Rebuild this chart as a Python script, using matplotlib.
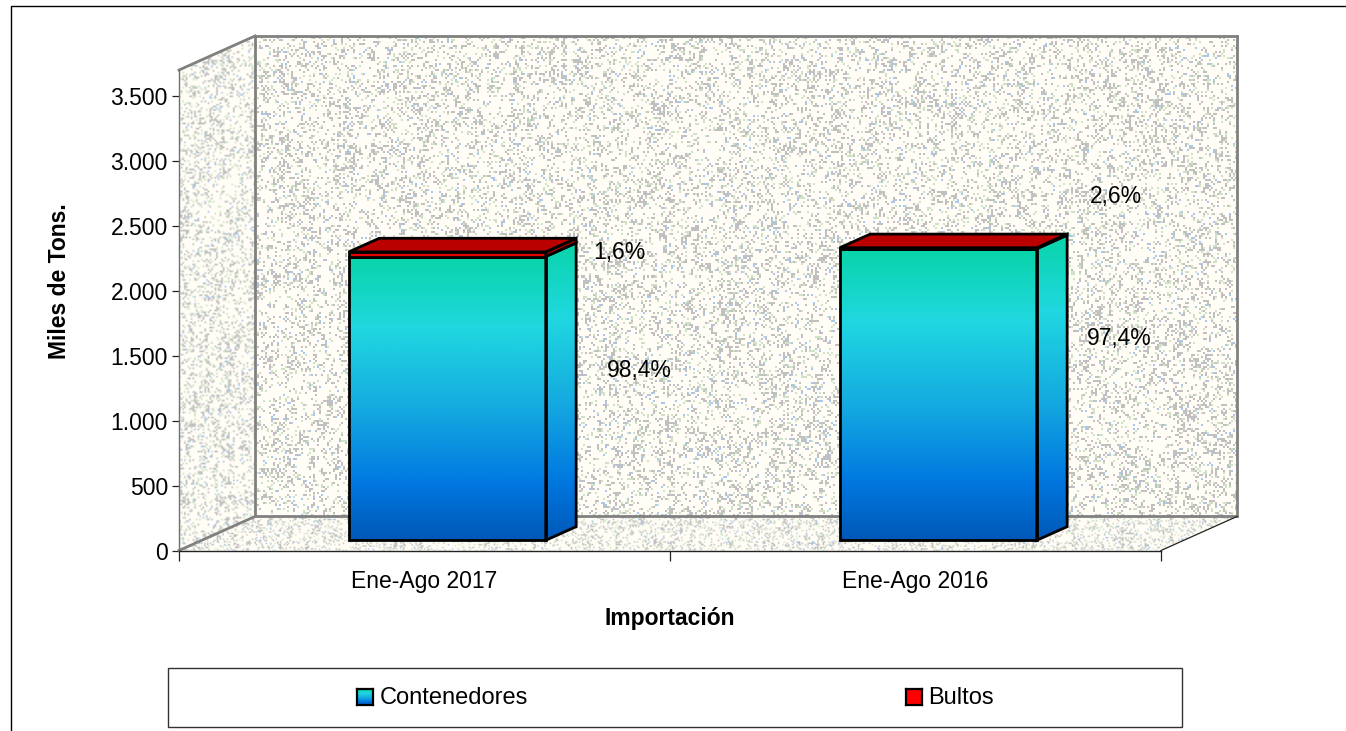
import matplotlib
matplotlib.use("Agg")
import matplotlib.pyplot as plt
import numpy as np
from matplotlib.colors import LinearSegmentedColormap, ListedColormap
from matplotlib.lines import Line2D
from matplotlib.patches import Polygon, Rectangle

categories = ["Ene-Ago 2017", "Ene-Ago 2016"]
contenedores = [2185, 2245]
bultos = [36, 8]
contenedores_pct = ["98,4%", "97,4%"]
bultos_pct = ["1,6%", "2,6%"]
y_ticks = [0, 500, 1000, 1500, 2000, 2500, 3000, 3500]
y_tick_labels = ["0", "500", "1.000", "1.500", "2.000", "2.500", "3.000", "3.500"]

W, H = 1346, 731
DEPTH_X = 76 / 491.0   # category units for the full chart depth
DEPTH_Y = 34 / 0.1297  # value units for the full chart depth
Y_TOP = 3700
BAR_WIDTH = 0.401
FS = 16.5

plt.rcParams["font.family"] = ["Liberation Sans", "DejaVu Sans"]

bar_cmap = LinearSegmentedColormap.from_list(
    "bar",
    [(0.0, "#08d4a8"), (0.25, "#20d8e0"), (0.55, "#14a8e0"), (0.8, "#0078e0"), (1.0, "#0058b8")],
)
tex_cmap = ListedColormap(["#fffdf5", "#c0c0c0", "#cfe2c8", "#a8c8f0"])


def px(x, y):
    return x / W, 1 - y / H


def proj(x, v, d):
    return x + d * DEPTH_X, v + d * DEPTH_Y


def make_texture(rows, cols, seed):
    # speckle only, not chart data
    rng = np.random.default_rng(seed)
    coarse = rng.random((rows // 6 + 1, cols // 3 + 1))
    coarse = np.kron(coarse, np.ones((6, 3)))[:rows, :cols]
    noise = rng.random((rows, cols))
    tex = np.zeros((rows, cols))
    tex[noise < 0.06 + 0.36 * coarse ** 2] = 1
    tex[rng.random((rows, cols)) < 0.07] = 2
    tex[rng.random((rows, cols)) < 0.02] = 3
    return tex


def clipped_image(ax, fig, data, pts, zorder, **kw):
    xs, vs = zip(*pts)
    im = ax.imshow(
        data,
        extent=[min(xs), max(xs), min(vs), max(vs)],
        aspect="auto",
        origin="upper",
        zorder=zorder,
        **kw,
    )
    im.set_clip_box(fig.bbox)
    im.set_clip_path(Polygon(pts, closed=True, transform=ax.transData))
    return im


def textured(ax, fig, pts, cell_px, seed, interp):
    (x0, v0), (x1, v1) = np.min(pts, axis=0), np.max(pts, axis=0)
    cols = int((x1 - x0) * 491 / cell_px) + 1
    rows = int((v1 - v0) * 0.1297 / cell_px) + 1
    tex = make_texture(rows, cols, seed)
    clipped_image(ax, fig, tex, pts, 1, cmap=tex_cmap, vmin=0, vmax=3, interpolation=interp)


def face(ax, pts, color, zorder):
    ax.add_patch(
        Polygon(pts, closed=True, facecolor=color, edgecolor="black", linewidth=2.0,
                joinstyle="miter", clip_on=False, zorder=zorder)
    )


def draw_walls(ax, fig):
    back = [proj(0, 0, 1), proj(2, 0, 1), proj(2, Y_TOP, 1), proj(0, Y_TOP, 1)]
    side = [proj(0, 0, 0), proj(0, 0, 1), proj(0, Y_TOP, 1), proj(0, Y_TOP, 0)]
    floor = [proj(0, 0, 0), proj(2, 0, 0), proj(2, 0, 1), proj(0, 0, 1)]
    textured(ax, fig, back, 2.0, 1, "nearest")
    textured(ax, fig, side, 1.7, 2, "bilinear")
    textured(ax, fig, floor, 1.4, 3, "bilinear")

    grey = dict(color="#808080", linewidth=2.0, clip_on=False, zorder=2, solid_capstyle="projecting")
    for a, b in [
        (back[0], back[1]), (back[1], back[2]), (back[2], back[3]), (back[3], back[0]),
        (side[0], side[1]), (side[2], side[3]),
    ]:
        ax.plot([a[0], b[0]], [a[1], b[1]], **grey)
    ax.plot([side[3][0], side[3][0]], [0, Y_TOP], color="#707070", linewidth=1.0, clip_on=False, zorder=2)
    ax.plot([floor[1][0], floor[2][0]], [floor[1][1], floor[2][1]], color="#222222",
            linewidth=0.9, clip_on=False, zorder=2)


def draw_bar(ax, fig, i, low, high):
    x0 = i + 0.5 - BAR_WIDTH / 2
    x1 = i + 0.5 + BAR_WIDTH / 2
    d0, d1 = 0.3, 0.7
    grad = np.linspace(0, 1, 256).reshape(-1, 1)

    front = [proj(x0, 0, d0), proj(x1, 0, d0), proj(x1, low, d0), proj(x0, low, d0)]
    right = [proj(x1, 0, d0), proj(x1, 0, d1), proj(x1, low, d1), proj(x1, low, d0)]
    clipped_image(ax, fig, grad, front, 3, cmap=bar_cmap, interpolation="bilinear")
    clipped_image(ax, fig, grad, right, 3, cmap=bar_cmap, interpolation="bilinear")
    face(ax, front, "none", 4)
    face(ax, right, "none", 4)

    front_r = [proj(x0, low, d0), proj(x1, low, d0), proj(x1, high, d0), proj(x0, high, d0)]
    right_r = [proj(x1, low, d0), proj(x1, low, d1), proj(x1, high, d1), proj(x1, high, d0)]
    top_r = [proj(x0, high, d0), proj(x1, high, d0), proj(x1, high, d1), proj(x0, high, d1)]
    face(ax, front_r, "#e60000", 5)
    face(ax, right_r, "#a80000", 5)
    face(ax, top_r, "#bb0000", 5)


def main():
    fig = plt.figure(figsize=(W / 100, H / 100), dpi=100, facecolor="white")
    left, bottom = px(179, 550.5)
    right, top = px(1161, 96)
    ax = fig.add_axes([left, bottom, right - left, top - bottom])
    ax.patch.set_visible(False)

    draw_walls(ax, fig)
    for i in range(len(categories)):
        draw_bar(ax, fig, i, contenedores[i], contenedores[i] + bultos[i])

    ax.set_xlim(0, 2)
    ax.set_ylim(0, 3500)

    for s in ["top", "right", "left"]:
        ax.spines[s].set_visible(False)
    ax.spines["bottom"].set_color("#222222")
    ax.spines["bottom"].set_linewidth(1.0)
    ax.set_yticks(y_ticks)
    ax.set_yticklabels(y_tick_labels, fontsize=FS)
    ax.tick_params(axis="y", length=5, width=0.9, color="#222222", pad=3)
    ax.set_xticks([0, 1, 2])
    ax.set_xticklabels(["", "", ""])
    ax.tick_params(axis="x", which="major", length=7, width=0.9, color="#222222")
    ax.set_xticks([0.5, 1.5], minor=True)
    ax.set_xticklabels(categories, minor=True, fontsize=FS)
    ax.tick_params(axis="x", which="minor", length=0, pad=14)

    fig.text(*px(670, 619), "Importación", fontsize=FS, fontweight="bold", ha="center", va="center")
    fig.text(*px(60, 281), "Miles de Tons.", fontsize=FS, fontweight="bold", rotation=90,
             ha="center", va="center")

    for (x, y), s in zip([(639.5, 370.5), (1119.5, 338.5)], contenedores_pct):
        fig.text(*px(x, y), s, fontsize=FS, ha="center", va="center")
    for (x, y), s in zip([(619, 252.5), (1115.5, 196.5)], bultos_pct):
        fig.text(*px(x, y), s, fontsize=FS, ha="center", va="center")

    # outer chart frame
    fig.add_artist(Line2D([px(11.5, 0)[0], px(11.5, 0)[0], 1], [0, px(0, 6)[1], px(0, 6)[1]],
                          color="black", linewidth=1.0))

    # legend
    x0, y0 = px(168, 727)
    x1, y1 = px(1182, 668)
    fig.add_artist(Rectangle((x0, y0), x1 - x0, y1 - y0, facecolor="white", edgecolor="#333333",
                             linewidth=1.0, transform=fig.transFigure, zorder=-1))

    sx, sy = px(357, 705)
    swatch = fig.add_axes([sx, sy, 16 / W, 16 / H])
    swatch.imshow(np.linspace(0, 1, 32).reshape(-1, 1), aspect="auto", cmap=bar_cmap)
    swatch.set_xticks([])
    swatch.set_yticks([])
    for sp in swatch.spines.values():
        sp.set_linewidth(1.6)
    fig.text(*px(380, 698), "Contenedores", fontsize=17, ha="left", va="center")

    sx, sy = px(906, 705)
    swatch = fig.add_axes([sx, sy, 16 / W, 16 / H], facecolor="#ff0000")
    swatch.set_xticks([])
    swatch.set_yticks([])
    for sp in swatch.spines.values():
        sp.set_linewidth(1.6)
    fig.text(*px(928, 698), "Bultos", fontsize=17, ha="left", va="center")

    fig.savefig("out.png", dpi=100)


if __name__ == "__main__":
    main()
